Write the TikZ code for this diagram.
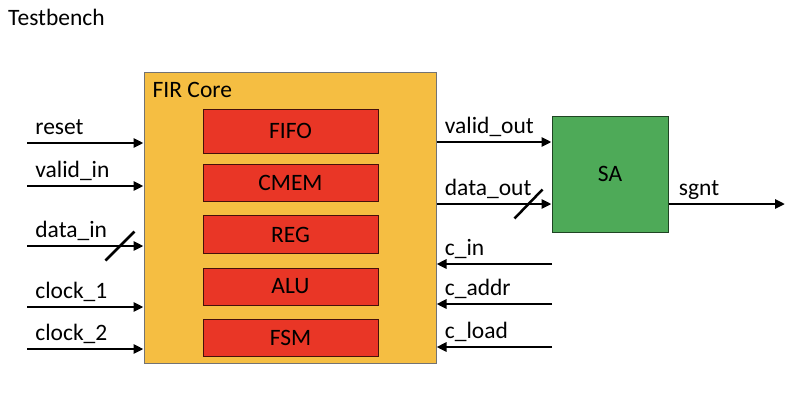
\documentclass[tikz,border=0pt]{standalone}
\usepackage{fontspec}
\setmainfont{Carlito}
\usepackage{xcolor}
\usetikzlibrary{arrows.meta,positioning}
\definecolor{coreorange}{RGB}{245,190,66}
\definecolor{blockred}{RGB}{233,54,38}
\definecolor{sagreen}{RGB}{78,170,88}

\begin{document}
\begin{tikzpicture}[
          x=1pt, y=1pt,
          font=\fontsize{23.5}{28}\selectfont,
          core/.style={draw=black!55, fill=coreorange, line width=1pt, minimum width=292pt, minimum height=291pt},
          block/.style={draw=black!70!blockred, fill=blockred, line width=1pt, minimum width=175pt, minimum height=37pt, inner sep=0pt},
          sabox/.style={draw=black!60!sagreen, fill=sagreen, line width=1pt, minimum size=116pt},
          sig/.style={line width=2.75pt, -{Triangle[length=10pt,width=9pt]}},
          slash/.style={line width=2.5pt},
          lbl/.style={anchor=base west, inner sep=0pt},
          node distance=13.5pt
        ]
        \useasboundingbox (0,0) rectangle (800,400);

        % Nodes
        \node[lbl] (tb) at (8,374) {Testbench};
        \node[core] (core) at (290,182.5) {};
        \node[lbl] (corename) at ([shift={(9,-26)}]core.north west) {FIR Core};
        \node[block, minimum height=44pt] (fifo) at (290.5,269) {FIFO};
        \node[block, below=10pt of fifo] (cmem) {CMEM};
        \node[block, minimum height=38pt, below=of cmem] (reg) {REG};
        \node[block, below=of reg] (alu) {ALU};
        \node[block, below=of alu] (fsm) {FSM};
        \node[sabox] (sa) at (610,226) {SA};

        % Inputs of the core
        \coordinate (iReset) at (27,257);
        \coordinate (iValid) at (27,214);
        \coordinate (iData) at (27,154);
        \coordinate (iClk1) at (27,93);
        \coordinate (iClk2) at (27,51);
        \coordinate (dEnd) at (iData -| core.west);

        \draw[sig] (iReset) -- (iReset -| core.west) node[lbl, pos=0, shift={(7,9)}] (lReset) {reset};
        \draw[sig] (iValid) -- (iValid -| core.west) node[lbl, pos=0, shift={(7,9)}] (lValid) {valid\_in};
        \draw[sig] (iData) -- (dEnd) node[lbl, pos=0, shift={(7,9)}] (lData) {data\_in};
        \draw[slash] ([xshift=-23.5pt]dEnd) +(-14.5,-14.5) -- +(14.5,14.5); % bus mark
        \draw[sig] (iClk1) -- (iClk1 -| core.west) node[lbl, pos=0, shift={(7,9)}] (lClk1) {clock\_1};
        \draw[sig] (iClk2) -- (iClk2 -| core.west) node[lbl, pos=0, shift={(7,9)}] (lClk2) {clock\_2};

        % Outputs of the core to SA
        \coordinate (oValid) at ([yshift=32pt]sa.west);
        \coordinate (oData) at ([yshift=-30pt]sa.west);
        \coordinate (oSgnt) at (785,196);

        \draw[sig] (oValid -| core.east) -- (oValid) node[lbl, pos=0, shift={(7,9)}] (lVout) {valid\_out};
        \draw[sig] (oData -| core.east) -- (oData) node[lbl, pos=0, shift={(7,9)}] (lDout) {data\_out};
        \draw[slash] ([xshift=-23pt]oData) +(-14,-14.5) -- +(14,14.5); % bus mark
        \draw[sig] (sa.east |- oSgnt) -- (oSgnt) node[lbl, pos=0, shift={(9,9)}] (lSgnt) {sgnt};

        % Coefficient inputs
        \coordinate (cIn) at (552,136);
        \coordinate (cAddr) at (552,96);
        \coordinate (cLoad) at (552,53);

        \draw[sig] (cIn) -- (cIn -| core.east) node[lbl, pos=1, shift={(7,9)}] (lCin) {c\_in};
        \draw[sig] (cAddr) -- (cAddr -| core.east) node[lbl, pos=1, shift={(7,9)}] (lCaddr) {c\_addr};
        \draw[sig] (cLoad) -- (cLoad -| core.east) node[lbl, pos=1, shift={(7,9)}] (lCload) {c\_load};

      \end{tikzpicture}
\end{document}
